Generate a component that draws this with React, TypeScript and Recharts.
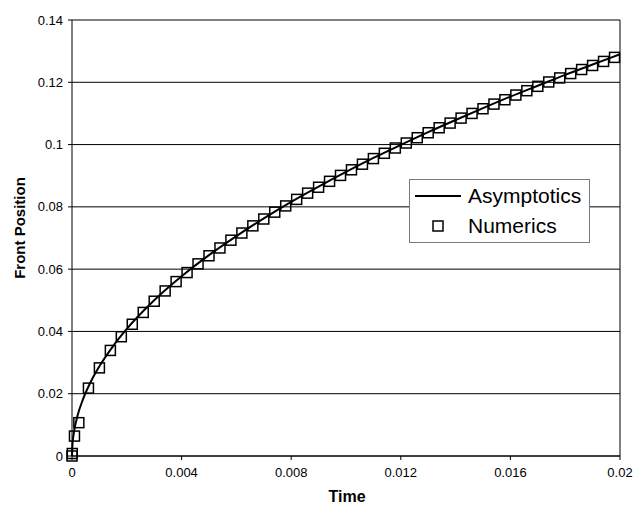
import { ComposedChart, Line, Scatter, XAxis, YAxis, CartesianGrid, Legend, ReferenceLine } from 'recharts';

const asymTime = [0, 0.00002, 0.00005, 0.0001, 0.0002, 0.0004, 0.0007, 0.001, 0.0015, 0.002, 0.003, 0.004, 0.005, 0.006, 0.007, 0.008, 0.009, 0.01, 0.011, 0.012, 0.013, 0.014, 0.015, 0.016, 0.017, 0.018, 0.019, 0.02];
const asymFront = [0, 0.0041, 0.0064, 0.0091, 0.0129, 0.0182, 0.0241, 0.0288, 0.0353, 0.0408, 0.05, 0.0577, 0.0645, 0.0706, 0.0763, 0.0816, 0.0865, 0.0912, 0.0957, 0.0999, 0.104, 0.1079, 0.1117, 0.1154, 0.1189, 0.1224, 0.1257, 0.129];

const numTime = [0, 0.00001, 0.00009, 0.00025, 0.0006, 0.001, 0.0014, 0.0018, 0.0022, 0.0026, 0.003, 0.0034, 0.0038, 0.0042, 0.0046, 0.005, 0.0054, 0.0058, 0.0062, 0.0066, 0.007, 0.0074, 0.0078, 0.0082, 0.0086, 0.009, 0.0094, 0.0098, 0.0102, 0.0106, 0.011, 0.0114, 0.0118, 0.0122, 0.0126, 0.013, 0.0134, 0.0138, 0.0142, 0.0146, 0.015, 0.0154, 0.0158, 0.0162, 0.0166, 0.017, 0.0174, 0.0178, 0.0182, 0.0186, 0.019, 0.0194, 0.0198];
const numFront = [0, 0.0008, 0.0064, 0.0107, 0.0218, 0.0283, 0.0339, 0.0383, 0.0423, 0.0461, 0.0497, 0.053, 0.056, 0.0589, 0.0617, 0.0643, 0.0668, 0.0693, 0.0716, 0.0739, 0.0761, 0.0783, 0.0803, 0.0824, 0.0844, 0.0863, 0.0882, 0.0901, 0.0919, 0.0937, 0.0955, 0.0972, 0.0989, 0.1005, 0.1022, 0.1038, 0.1054, 0.1069, 0.1085, 0.11, 0.1115, 0.113, 0.1144, 0.1159, 0.1173, 0.1187, 0.1201, 0.1214, 0.1228, 0.1241, 0.1254, 0.1267, 0.128];

const xTicks = [0, 0.004, 0.008, 0.012, 0.016, 0.02];
const yTicks = [0, 0.02, 0.04, 0.06, 0.08, 0.1, 0.12, 0.14];

const asymData = asymTime.map((t, i) => ({ t, y: asymFront[i] }));
const numData = numTime.map((t, i) => ({ t, y: numFront[i] }));

const font = '"Liberation Sans", Arial, sans-serif';

function Square(props: any) {
  const { cx, cy } = props;
  return <rect x={cx - 5} y={cy - 5} width={10} height={10} fill="none" stroke="#000" strokeWidth={1.5} />;
}

function LegendBox() {
  return (
    <div style={{ width: 179, height: 62, border: '1px solid #7a7a7a', background: '#fff', fontFamily: font, fontSize: 21, color: '#000', boxSizing: 'content-box' }}>
      <div style={{ display: 'flex', alignItems: 'center', height: 30, marginTop: 1 }}>
        <svg width={58} height={20}>
          <line x1={5} y1={10} x2={51} y2={10} stroke="#000" strokeWidth={2} />
        </svg>
        <span>Asymptotics</span>
      </div>
      <div style={{ display: 'flex', alignItems: 'center', height: 30 }}>
        <svg width={58} height={20}>
          <rect x={23} y={5} width={10} height={10} fill="none" stroke="#000" strokeWidth={1.5} />
        </svg>
        <span>Numerics</span>
      </div>
    </div>
  );
}

export default function App() {
  return (
    <div style={{ position: 'absolute', left: 0, top: 0, background: '#fff' }}>
      <ComposedChart width={633} height={506} margin={{ top: 20, right: 13, bottom: 0, left: 0 }}>
        <CartesianGrid vertical={false} stroke="#000" strokeWidth={1} />
        <XAxis
          type="number"
          dataKey="t"
          domain={[0, 0.02]}
          ticks={xTicks}
          height={50}
          stroke="#000"
          tickSize={4}
          tickMargin={8}
          tick={{ fill: '#000', fontSize: 13, fontFamily: font }}
          label={{
            content: () => (
              <text x={347} y={496} textAnchor="middle" dominantBaseline="central" fontFamily={font} fontSize={16} fontWeight="bold" fill="#000">
                Time
              </text>
            ),
          }}
        />
        <YAxis
          type="number"
          domain={[0, 0.14]}
          ticks={yTicks}
          width={72}
          stroke="#000"
          tickSize={4}
          tickMargin={5}
          tick={{ fill: '#000', fontSize: 13, fontFamily: font }}
          label={{
            content: () => (
              <text x={19} y={228} transform="rotate(-90 19 228)" textAnchor="middle" dominantBaseline="central" fontFamily={font} fontSize={15} fontWeight="bold" fill="#000">
                Front Position
              </text>
            ),
          }}
        />
        <ReferenceLine x={0.02} stroke="#000" />
        <Line data={asymData} dataKey="y" type="monotone" stroke="#000" strokeWidth={2} dot={false} isAnimationActive={false} name="Asymptotics" />
        <Scatter data={numData} dataKey="y" shape={<Square />} isAnimationActive={false} name="Numerics" />
        <Legend layout="horizontal" verticalAlign="middle" align="center" content={<LegendBox />} wrapperStyle={{ left: 409, top: 179, width: 181 }} />
      </ComposedChart>
    </div>
  );
}
